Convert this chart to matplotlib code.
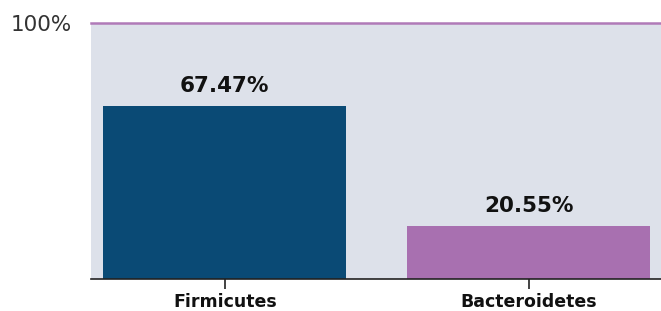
import matplotlib
matplotlib.use("Agg")
import matplotlib.pyplot as plt

categories = ["Firmicutes", "Bacteroidetes"]
values = [67.47, 20.55]
labels = ["67.47%", "20.55%"]
colors = ["#0a4a75", "#a870b0"]

plt.rcParams['font.family'] = ['DejaVu Sans']

fig = plt.figure(figsize=(6.61, 3.11), dpi=100)
ax = fig.add_axes([91/661, 1-279/311, (661-91)/661, (279-23)/311])
ax.set_facecolor("#dde1ea")
x = list(range(len(categories)))
ax.bar(x, values, width=0.8, color=colors, zorder=2)
for xi, v, l in zip(x, values, labels):
    ax.text(xi, v + 5.5, l, ha='center', va='baseline', fontsize=15.5,
            fontweight='bold', color='#111111')
ax.set_xlim(-0.44, 1.435)
ax.set_ylim(0, 100)
ax.set_xticks(x)
ax.set_xticklabels(categories, fontsize=12.5, fontweight='bold', color='#111111')
ax.set_yticks([100])
ax.set_yticklabels(["100%"], fontsize=15.5, color='#333333')
ax.tick_params(axis='y', length=0, pad=14)
ax.tick_params(axis='x', length=7, width=1.2, color='#222222', pad=3)
for s in ['left', 'right']:
    ax.spines[s].set_visible(False)
ax.spines['top'].set_color('#b07ab8')
ax.spines['top'].set_linewidth(1.8)
ax.spines['bottom'].set_color('#222222')
ax.spines['bottom'].set_linewidth(1.2)
fig.savefig("out.png", dpi=100)
